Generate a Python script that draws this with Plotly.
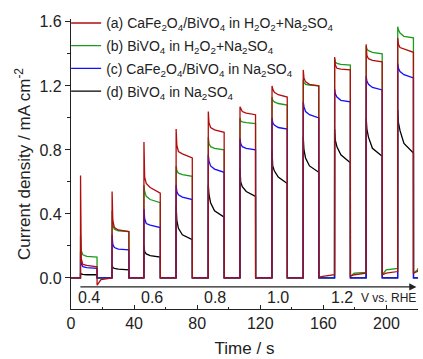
import plotly.graph_objects as go

# ---------------- data ----------------
# light-on (rise) and light-off (fall) times, s
RISE_T = [6.0, 26.0, 46.2, 66.6, 87.0, 107.1, 127.4, 147.2, 167.1, 187.1, 207.1]
FALL_T = [16.5, 36.7, 56.6, 76.9, 97.1, 117.0, 137.1, 157.1, 177.1, 197.3, 217.1]
# sample offsets (s after light-on) of the on-state values below
ON_OFFSETS = [0.05, 0.5, 1.5, 4.0]
# sample offsets (s after light-off) for off-state values
OFF_OFFSETS = [0.05, 2.5]

# on-state values per pulse: [spike, 0.5 s, 1.5 s, 4 s, end]  (mA cm-2)
red_on = [
    [0.64, 0.12, 0.085, 0.078, 0.07],
    [0.54, 0.36, 0.315, 0.30, 0.29],
    [0.85, 0.63, 0.59, 0.565, 0.53],
    [0.93, 0.83, 0.79, 0.775, 0.75],
    [1.04, 0.97, 0.94, 0.925, 0.91],
    [1.07, 1.06, 1.04, 1.03, 1.02],
    [1.20, 1.18, 1.16, 1.145, 1.13],
    [1.30, 1.25, 1.225, 1.21, 1.20],
    [1.38, 1.33, 1.31, 1.305, 1.30],
    [1.46, 1.39, 1.37, 1.36, 1.35],
    [1.50, 1.46, 1.44, 1.43, 1.41],
]
green_on = [
    [0.26, 0.17, 0.145, 0.135, 0.13],
    [0.42, 0.33, 0.305, 0.295, 0.29],
    [0.58, 0.54, 0.51, 0.49, 0.47],
    [0.70, 0.67, 0.655, 0.645, 0.635],
    [0.88, 0.84, 0.82, 0.81, 0.80],
    [1.00, 0.98, 0.975, 0.97, 0.965],
    [1.13, 1.11, 1.10, 1.09, 1.08],
    [1.24, 1.22, 1.21, 1.205, 1.20],
    [1.37, 1.35, 1.34, 1.335, 1.33],
    [1.45, 1.43, 1.42, 1.41, 1.40],
    [1.57, 1.55, 1.53, 1.51, 1.50],
]
blue_on = [
    [0.16, 0.09, 0.07, 0.065, 0.06],
    [0.27, 0.21, 0.19, 0.18, 0.175],
    [0.43, 0.37, 0.34, 0.33, 0.315],
    [0.58, 0.54, 0.52, 0.505, 0.49],
    [0.77, 0.73, 0.70, 0.68, 0.66],
    [0.87, 0.84, 0.82, 0.81, 0.80],
    [1.00, 0.97, 0.955, 0.94, 0.93],
    [1.10, 1.07, 1.04, 1.02, 1.00],
    [1.18, 1.15, 1.13, 1.11, 1.10],
    [1.26, 1.23, 1.21, 1.19, 1.175],
    [1.34, 1.31, 1.29, 1.27, 1.25],
]
black_on = [
    [0.03, 0.025, 0.022, 0.02, 0.02],
    [0.08, 0.065, 0.06, 0.055, 0.05],
    [0.20, 0.165, 0.15, 0.14, 0.13],
    [0.45, 0.36, 0.31, 0.27, 0.24],
    [0.58, 0.52, 0.47, 0.42, 0.38],
    [0.68, 0.60, 0.57, 0.54, 0.51],
    [0.80, 0.70, 0.67, 0.63, 0.59],
    [0.88, 0.80, 0.75, 0.70, 0.66],
    [0.93, 0.86, 0.82, 0.77, 0.72],
    [1.00, 0.93, 0.88, 0.81, 0.76],
    [1.05, 0.97, 0.92, 0.84, 0.78],
]
# off-state (dark) values after each pulse: [just after off, +2.5 s, before next on]
red_off = [[-0.045, -0.01, 0.0], [0.0, 0.0, 0.0], [0.0, 0.0, 0.0], [0.0, 0.0, 0.0],
           [0.0, 0.0, 0.0], [0.0, 0.0, 0.0], [0.0, 0.0, 0.0], [0.005, 0.01, 0.02],
           [0.01, 0.02, 0.03], [0.02, 0.03, 0.04], [0.03, 0.04, 0.05]]
green_off = [[0.0, 0.0, 0.0]] * 8 + [[0.01, 0.03, 0.035], [0.02, 0.05, 0.06], [0.03, 0.05, 0.06]]
blue_off = [[0.0, 0.0, 0.0]] * 11
black_off = [[0.0, 0.0, 0.0]] * 11

SERIES_NAMES = [
    "(a) CaFe<sub>2</sub>O<sub>4</sub>/BiVO<sub>4</sub> in H<sub>2</sub>O<sub>2</sub>+Na<sub>2</sub>SO<sub>4</sub>",
    "(b) BiVO<sub>4</sub> in H<sub>2</sub>O<sub>2</sub>+Na<sub>2</sub>SO<sub>4</sub>",
    "(c) CaFe<sub>2</sub>O<sub>4</sub>/BiVO<sub>4</sub> in Na<sub>2</sub>SO<sub>4</sub>",
    "(d) BiVO<sub>4</sub> in Na<sub>2</sub>SO<sub>4</sub>",
]
SERIES_COLORS = ["#b00d0d", "#1c9a1c", "#1010ff", "#000000"]

# applied potential labels along the inner axis
POTENTIAL_LABELS = ["0.4", "0.6", "0.8", "1.0", "1.2"]
POTENTIAL_TIMES = [11.5, 51.5, 91.5, 131.5, 171.5]

X_TICKS = [0, 40, 80, 120, 160, 200]
Y_TICKS = [0.0, 0.4, 0.8, 1.2, 1.6]
T_END = 220


def build(on_vals, off_vals):
    xs, ys = [0.0], [0.0]
    for k in range(len(RISE_T)):
        r, f = RISE_T[k], FALL_T[k]
        xs.append(r); ys.append(ys[-1])
        for off, v in zip(ON_OFFSETS, on_vals[k][:4]):
            xs.append(r + off); ys.append(v)
        xs.append(f); ys.append(on_vals[k][4])
        nxt = RISE_T[k + 1] if k + 1 < len(RISE_T) else T_END
        for off, v in zip(OFF_OFFSETS, off_vals[k][:2]):
            if f + off < nxt:
                xs.append(f + off); ys.append(v)
        xs.append(nxt); ys.append(off_vals[k][2])
    return xs, ys


data = [(red_on, red_off), (green_on, green_off), (blue_on, blue_off), (black_on, black_off)]

fig = go.Figure()
order = [3, 1, 2, 0]  # draw black, green, blue, red (red on top)
for i in order:
    xs, ys = build(*data[i])
    fig.add_trace(go.Scatter(
        x=xs, y=ys, mode="lines", name=SERIES_NAMES[i],
        line=dict(color=SERIES_COLORS[i], width=1.3),
        legendrank=i + 1, legendgroup=f"g{i}",
    ))

FONT = "Liberation Sans, Arial, sans-serif"

annotations = []
for t, lab in zip(POTENTIAL_TIMES, POTENTIAL_LABELS):
    annotations.append(dict(x=t, y=-0.125, xref="x", yref="y", text=lab, showarrow=False,
                            font=dict(size=16, color="#222"), xanchor="center", yanchor="middle"))
annotations.append(dict(x=201, y=-0.128, xref="x", yref="y", text="V vs. RHE", showarrow=False,
                        font=dict(size=12, color="#222"), xanchor="center", yanchor="middle"))
# arrow of the potential axis
annotations.append(dict(x=219, y=-0.056, ax=5, ay=-0.056, xref="x", yref="y", axref="x", ayref="y",
                        text="", showarrow=True, arrowhead=2, arrowsize=1.2, arrowwidth=1.2,
                        arrowcolor="#222"))

fig.update_layout(
    width=423, height=359,
    margin=dict(l=71, r=5, t=19, b=50),
    paper_bgcolor="white", plot_bgcolor="white",
    font=dict(family=FONT, size=16, color="#222"),
    showlegend=True,
    legend=dict(x=-0.014, y=1.04, xanchor="left", yanchor="top", bgcolor="rgba(0,0,0,0)",
                font=dict(size=14, color="#222"), itemwidth=30, tracegroupgap=1.5,
                traceorder="grouped"),
    annotations=annotations,
    xaxis=dict(range=[0, T_END], tickvals=X_TICKS, showline=True, linecolor="#222", linewidth=1.2,
               ticks="inside", ticklen=4, tickcolor="#222", showgrid=False, zeroline=False,
               automargin=False,
               minor=dict(dtick=20, ticks="inside", ticklen=2, tickcolor="#222"),
               title=dict(text="Time / s", font=dict(size=17), standoff=10),
               tickfont=dict(size=16)),
    yaxis=dict(range=[-0.194, 1.618], tickvals=Y_TICKS, tickformat=".1f", showline=True,
               linecolor="#222", linewidth=1.2, ticks="outside", ticklen=5, tickcolor="#222",
               showgrid=False, zeroline=False, automargin=False,
               minor=dict(dtick=0.2, ticks="outside", ticklen=3, tickcolor="#222"),
               title=dict(text="Current density / mA cm<sup>-2</sup>", font=dict(size=17), standoff=4),
               tickfont=dict(size=16)),
)

fig.write_html("out.html", post_script="document.body.style.margin='0';",
               config={"displayModeBar": False})
